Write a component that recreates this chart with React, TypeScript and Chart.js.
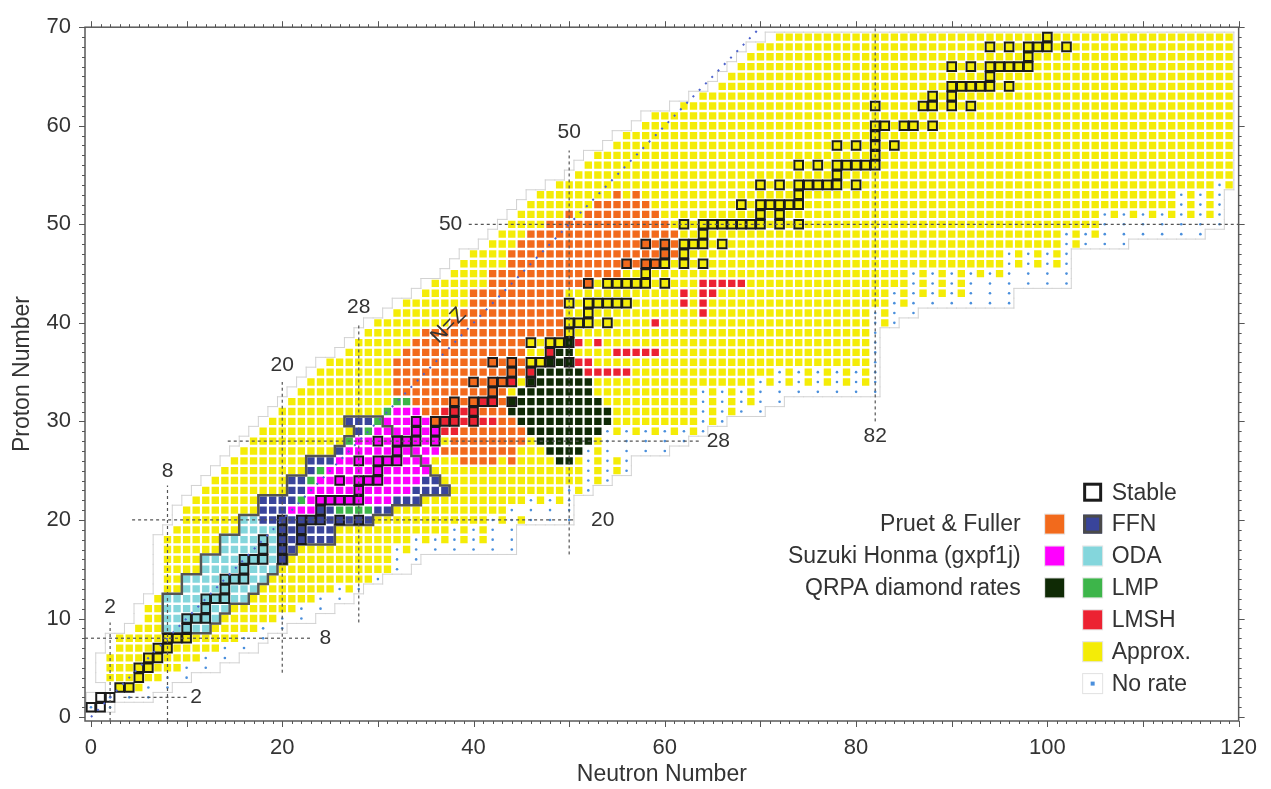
import React, { useEffect, useRef } from 'react';
import { Chart, registerables } from 'chart.js';
Chart.register(...registerables);

const FONT = '"Liberation Sans", Arial, Helvetica, sans-serif';

// ---- nuclide rows, index = Z - 1 (Z = 1 .. 69) ----
const Z_START = 1;
const ROW_FIRST = [0,1,3,2,2,2,3,3,5,6,6,7,8,8,8,8,8,8,9,10,10,11,12,13,14,15,16,17,18,19,20,21,22,23,24,25,27,28,29,30,32,33,35,36,38,39,40,42,43,44,45,46,47,49,51,52,53,55,56,58,59,62,64,66,67,68,69,70,72];
const ROW_APPROX_END = [-1,0,4,7,9,11,13,14,16,19,21,23,25,28,30,31,31,33,37,41,42,45,48,51,51,51,51,53,53,63,63,63,63,69,70,81,81,81,81,81,81,83,83,85,85,95,95,101,101,105,105,113,113,117,119,119,119,119,119,119,119,119,119,119,119,119,119,119,119];
const ROW_MIX_END = [-1,0,5,7,9,11,13,15,17,19,21,23,27,29,31,31,33,41,41,45,43,49,51,53,55,55,53,53,63,65,67,69,69,81,81,81,81,81,81,83,83,85,91,91,95,101,101,103,105,105,117,117,117,119,119,119,119,119,119,119,119,119,119,119,119,119,119,119,119];
const ROW_LAST = [2,6,8,10,13,15,17,18,20,23,25,27,28,30,33,34,44,44,44,50,50,50,52,54,56,56,60,62,64,66,70,72,82,82,82,82,82,82,82,84,86,96,96,102,102,102,102,108,116,118,118,118,118,119,119,119,119,119,119,119,119,119,119,119,119,119,119,119,119];

// ---- rate sources: [Z, N from, N to] ----
const PRUET_ROWS = [[26,39,42],[26,44,44],[27,37,44],[28,38,45],[29,36,45],[30,36,44],[31,35,43],[32,34,43],[33,32,43],[34,32,43],[35,32,45],[36,32,45],[37,33,45],[38,34,45],[39,35,49],[40,38,49],[41,39,49],[42,40,49],[43,40,49],[44,42,52],[45,42,55],[46,44,59],[47,44,61],[48,45,61],[49,46,61],[50,48,60],[51,50,50],[51,52,59],[52,53,58],[53,55,55],[53,57,57]];
const SUZUKI_ROWS = [[21,21,23],[22,23,31],[23,23,33],[24,24,34],[25,25,35],[26,26,35],[27,27,36],[28,28,36],[29,30,36],[30,31,35],[31,32,34]];
const QRPA_ROWS = [[26,49,50],[27,48,51],[28,47,52],[29,46,53],[30,45,54],[31,44,54],[32,44,53],[33,45,52],[34,46,52],[35,47,51],[36,48,50],[37,48,50],[38,50,50]];
const ODA_ROWS = [[9,8,12],[10,8,13],[11,8,14],[12,8,16],[13,10,17],[14,10,18],[15,12,19],[16,12,19],[17,14,19],[18,14,19],[19,16,19],[20,16,17]];
const FFN_ROWS = [[9,12,12],[10,11,13],[11,10,14],[12,9,16],[13,10,17],[14,10,18],[15,12,19],[16,12,20],[17,14,21],[18,14,25],[19,16,25],[20,16,29],[21,18,31],[22,18,34],[23,21,37],[24,21,36],[25,23,35],[26,23,34],[27,26,33],[28,27,32],[29,28,31],[30,27,30]];
const LMSH_ROWS = [[29,37,38],[30,37,42],[31,37,40],[32,41,42],[34,44,44],[35,46,46],[35,52,56],[36,51,52],[37,48,48],[37,55,59],[38,51,51],[38,53,53],[40,59,59],[41,64,64],[42,62,62],[42,64,64],[43,62,62],[43,64,65],[44,64,68]];
// [N, Z]
const LMP_CELLS = [[22,22],[23,24],[24,25],[26,21],[27,21],[28,21],[29,21],[27,28],[29,29],[30,30],[31,31],[32,32],[33,32]];

// ---- stable nuclides: [Z, N list] ----
const STABLE: [number, number[]][] = [
  [1,[0,1]],[2,[1,2]],[3,[3,4]],[4,[5]],[5,[5,6]],[6,[6,7]],[7,[7,8]],[8,[8,9,10]],[9,[10]],[10,[10,11,12]],
  [11,[12]],[12,[12,13,14]],[13,[14]],[14,[14,15,16]],[15,[16]],[16,[16,17,18,20]],[17,[18,20]],[18,[18,20,22]],
  [19,[20,22]],[20,[20,22,23,24,26,28]],[21,[24]],[22,[24,25,26,27,28]],[23,[28]],[24,[26,28,29,30]],[25,[30]],
  [26,[28,30,31,32]],[27,[32]],[28,[30,32,33,34,36]],[29,[34,36]],[30,[34,36,37,38,40]],[31,[38,40]],
  [32,[38,40,41,42,44]],[33,[42]],[34,[40,42,43,44,46]],[35,[44,46]],[36,[42,44,46,47,48,50]],[37,[48]],
  [38,[46,48,49,50]],[39,[50]],[40,[50,51,52,54]],[41,[52]],[42,[50,52,53,54,55,56]],[44,[52,54,55,56,57,58,60]],
  [45,[58]],[46,[56,58,59,60,62,64]],[47,[60,62]],[48,[58,60,62,63,64,66]],[49,[64]],[50,[62,64,65,66,67,68,69,70,72,74]],
  [51,[70,72]],[52,[68,70,71,72,73,74]],[53,[74]],[54,[70,72,74,75,76,77,78,80]],[55,[78]],[56,[74,76,78,79,80,81,82]],
  [57,[82]],[58,[78,80,82,84]],[59,[82]],[60,[82,83,85,86,88]],[62,[82,87,88,90,92]],[63,[88,90]],
  [64,[90,91,92,93,94,96]],[65,[94]],[66,[90,92,94,95,96,97,98]],[67,[98]],[68,[94,96,98,99,100,102]],[69,[100]]
];

// ---- magic number guide lines ----
const MAGIC_N = [2, 8, 20, 28, 50, 82];
const MAGIC_N_FROM = [-0.4, -0.4, 4.5, 9.6, 16.5, 30];
const MAGIC_N_TO = [9.6, 23.5, 34, 40, 57.5, 70];
const MAGIC_N_LABEL_Z = [11.1, 24.9, 35.7, 41.6, 59.3, 28.5];
const MAGIC_Z = [2, 8, 20, 28, 50];
const MAGIC_Z_FROM = [3.4, -0.625, 4.3, 14.3, 39.5];
const MAGIC_Z_TO = [10.1, 23.2, 50.5, 63.6, 120];
const MAGIC_Z_LABEL_N = [11, 24.5, 53.5, 65.6, 37.6];
const NZ_LINE = [0, 70];
const NZ_LABEL = [37.4, 39.7];

const X_TICKS = [0, 20, 40, 60, 80, 100, 120];
const Y_TICKS = [0, 10, 20, 30, 40, 50, 60, 70];

const LEGEND_RIGHT = ['Stable', 'FFN', 'ODA', 'LMP', 'LMSH', 'Approx.', 'No rate'];
const LEGEND_RIGHT_KEYS = ['stable', 'ffn', 'oda', 'lmp', 'lmsh', 'approx', 'norate'];
const LEGEND_LEFT = ['Pruet & Fuller', 'Suzuki Honma (gxpf1j)', 'QRPA diamond rates'];
const LEGEND_LEFT_KEYS = ['pruet', 'suzuki', 'qrpa'];

const COLORS: Record<string, string> = {
  approx: '#f4ec07', pruet: '#f26a1c', suzuki: '#ff00ff', qrpa: '#0f2a05', ffn: '#39449b',
  oda: '#84d6dc', lmp: '#3db54a', lmsh: '#ec2232', dot: '#4a8fdc'
};

const key = (n: number, z: number) => n + ',' + z;

function rowSet(rows: number[][]) {
  const s = new Set<string>();
  rows.forEach(([z, a, b]) => { for (let n = a; n <= b; n++) s.add(key(n, z)); });
  return s;
}

function buildData() {
  const pruet = rowSet(PRUET_ROWS), suzuki = rowSet(SUZUKI_ROWS), qrpa = rowSet(QRPA_ROWS);
  const oda = rowSet(ODA_ROWS), ffn = rowSet(FFN_ROWS), lmsh = rowSet(LMSH_ROWS);
  const lmp = new Set(LMP_CELLS.map(([n, z]) => key(n, z)));
  const order: [Set<string>, string][] = [[lmp, 'lmp'], [lmsh, 'lmsh'], [qrpa, 'qrpa'], [suzuki, 'suzuki'], [oda, 'oda'], [ffn, 'ffn'], [pruet, 'pruet']];
  const squares: { x: number; y: number }[] = [];
  const colors: string[] = [];
  const dots: { x: number; y: number }[] = [];
  const region = new Set<string>();
  for (let i = 0; i < ROW_FIRST.length; i++) {
    const z = Z_START + i;
    for (let n = ROW_FIRST[i] - 1; n <= ROW_LAST[i]; n++) region.add(key(n, z));
    for (let n = ROW_FIRST[i]; n <= ROW_LAST[i]; n++) {
      const k = key(n, z);
      const hit = order.find(([s]) => s.has(k));
      if (hit) { squares.push({ x: n, y: z }); colors.push(COLORS[hit[1]]); continue; }
      if (n <= ROW_APPROX_END[i]) { squares.push({ x: n, y: z }); colors.push(COLORS.approx); }
      else if (n <= ROW_MIX_END[i]) {
        if (n % 2 === 0) dots.push({ x: n, y: z });
        else { squares.push({ x: n, y: z }); colors.push(COLORS.approx); }
      } else if (n % 2 === 0) dots.push({ x: n, y: z });
    }
  }
  const stable: { x: number; y: number }[] = [];
  STABLE.forEach(([z, ns]) => ns.forEach((n) => stable.push({ x: n, y: z })));
  const ffnOutline = new Set<string>([...ffn, ...oda]);
  return { squares, colors, dots, stable, region, ffnOutline };
}

function drawOutline(chart: any, set: Set<string>, color: string, width: number) {
  const xs = chart.scales.x, ys = chart.scales.y, ctx = chart.ctx;
  ctx.save();
  const a = chart.chartArea;
  ctx.beginPath(); ctx.rect(a.left, a.top, a.right - a.left, a.bottom - a.top); ctx.clip();
  ctx.strokeStyle = color; ctx.lineWidth = width; ctx.lineCap = 'square';
  ctx.beginPath();
  set.forEach((k) => {
    const [n, z] = k.split(',').map(Number);
    const l = xs.getPixelForValue(n - 0.5), r = xs.getPixelForValue(n + 0.5);
    const t = ys.getPixelForValue(z + 0.5), b = ys.getPixelForValue(z - 0.5);
    if (!set.has(key(n - 1, z))) { ctx.moveTo(l, t); ctx.lineTo(l, b); }
    if (!set.has(key(n + 1, z))) { ctx.moveTo(r, t); ctx.lineTo(r, b); }
    if (!set.has(key(n, z + 1))) { ctx.moveTo(l, t); ctx.lineTo(r, t); }
    if (!set.has(key(n, z - 1))) { ctx.moveTo(l, b); ctx.lineTo(r, b); }
  });
  ctx.stroke();
  ctx.restore();
}

function legendSwatch(ctx: CanvasRenderingContext2D, k: string, cx: number, cy: number) {
  const s = 19, x = cx - s / 2, y = cy - s / 2;
  if (k === 'stable') {
    ctx.fillStyle = '#fff'; ctx.fillRect(x, y, s, s);
    ctx.strokeStyle = '#1b1b1b'; ctx.lineWidth = 3; ctx.strokeRect(x + 1.5, y + 1.5, s - 3, s - 3);
  } else if (k === 'ffn') {
    ctx.fillStyle = COLORS.ffn; ctx.fillRect(x, y, s, s);
    ctx.strokeStyle = '#4a4a4a'; ctx.lineWidth = 3; ctx.strokeRect(x + 1.5, y + 1.5, s - 3, s - 3);
  } else if (k === 'norate') {
    ctx.fillStyle = '#fff'; ctx.fillRect(x, y, s, s);
    ctx.strokeStyle = '#e2e2e2'; ctx.lineWidth = 1; ctx.strokeRect(x - 0.5, y - 0.5, s + 1, s + 1);
    ctx.fillStyle = COLORS.dot; ctx.fillRect(cx - 2, cy - 2, 4, 4);
  } else {
    ctx.strokeStyle = '#e2e2e2'; ctx.lineWidth = 1; ctx.strokeRect(x - 0.5, y - 0.5, s + 1, s + 1);
    ctx.fillStyle = COLORS[k]; ctx.fillRect(x, y, s, s);
  }
}

function makeDecorPlugin(region: Set<string>, ffnOutline: Set<string>) {
  return {
    id: 'nuclideDecor',
    beforeDatasetsDraw(chart: any) {
      drawOutline(chart, region, '#d2d2d2', 1);
    },
    afterDatasetDraw(chart: any, args: any) {
      if (args.index === 1) drawOutline(chart, ffnOutline, '#555555', 2.5);
    },
    afterDatasetsDraw(chart: any) {
      const ctx = chart.ctx, xs = chart.scales.x, ys = chart.scales.y;
      ctx.save();
      ctx.fillStyle = '#333';
      ctx.font = '21px ' + FONT;
      ctx.textAlign = 'center'; ctx.textBaseline = 'middle';
      MAGIC_N.forEach((n, i) => ctx.fillText(String(n), xs.getPixelForValue(n), ys.getPixelForValue(MAGIC_N_LABEL_Z[i])));
      MAGIC_Z.forEach((z, i) => ctx.fillText(String(z), xs.getPixelForValue(MAGIC_Z_LABEL_N[i]), ys.getPixelForValue(z)));
      const px = xs.getPixelForValue(NZ_LABEL[0]), py = ys.getPixelForValue(NZ_LABEL[1]);
      const ang = Math.atan2(ys.getPixelForValue(70) - ys.getPixelForValue(0), xs.getPixelForValue(70) - xs.getPixelForValue(0));
      ctx.translate(px, py); ctx.rotate(ang); ctx.fillText('N=Z', 0, 0);
      ctx.restore();
    },
    afterDraw(chart: any) {
      const ctx = chart.ctx, a = chart.chartArea, xs = chart.scales.x, ys = chart.scales.y;
      ctx.save();
      ctx.strokeStyle = '#5a5a5a'; ctx.lineWidth = 1.5;
      ctx.strokeRect(a.left, a.top, a.right - a.left, a.bottom - a.top);
      ctx.lineWidth = 1; ctx.strokeStyle = '#555';
      ctx.beginPath();
      for (let n = 0; n <= 120; n++) {
        const x = Math.round(xs.getPixelForValue(n)) + 0.5;
        const len = n % 10 === 0 ? 6 : 3;
        ctx.moveTo(x, a.bottom); ctx.lineTo(x, a.bottom + len);
        ctx.moveTo(x, a.top); ctx.lineTo(x, a.top - len);
      }
      for (let z = 0; z <= 70; z++) {
        const y = Math.round(ys.getPixelForValue(z)) + 0.5;
        const len = z % 10 === 0 ? 6 : 3;
        ctx.moveTo(a.left, y); ctx.lineTo(a.left - len, y);
        ctx.moveTo(a.right, y); ctx.lineTo(a.right + len, y);
      }
      ctx.stroke();
      const rx = a.right - 146, lx = a.right - 184, y0 = a.top + 465, step = 31.9;
      ctx.font = '23px ' + FONT; ctx.textBaseline = 'middle';
      LEGEND_RIGHT.forEach((t, i) => {
        const cy = y0 + i * step;
        legendSwatch(ctx, LEGEND_RIGHT_KEYS[i], rx, cy);
        ctx.fillStyle = '#333'; ctx.textAlign = 'left';
        ctx.fillText(t, rx + 19, cy + 1);
      });
      LEGEND_LEFT.forEach((t, i) => {
        const cy = y0 + (i + 1) * step;
        legendSwatch(ctx, LEGEND_LEFT_KEYS[i], lx, cy);
        ctx.fillStyle = '#333'; ctx.textAlign = 'right';
        ctx.fillText(t, lx - 34, cy + 1);
      });
      ctx.restore();
    }
  };
}

export default function App() {
  const ref = useRef<HTMLCanvasElement>(null);
  useEffect(() => {
    const d = buildData();
    const lineSets: any[] = [];
    MAGIC_N.forEach((n, i) => lineSets.push({
      data: [{ x: n, y: MAGIC_N_FROM[i] }, { x: n, y: MAGIC_N_TO[i] }], showLine: true, pointRadius: 0,
      borderColor: '#555', borderWidth: 1.2, borderDash: [3, 3], order: 1
    }));
    MAGIC_Z.forEach((z, i) => lineSets.push({
      data: [{ x: MAGIC_Z_FROM[i], y: z }, { x: MAGIC_Z_TO[i], y: z }], showLine: true, pointRadius: 0,
      borderColor: '#555', borderWidth: 1.2, borderDash: [3, 3], order: 1
    }));
    lineSets.push({
      data: [{ x: NZ_LINE[0], y: NZ_LINE[0] }, { x: NZ_LINE[1], y: NZ_LINE[1] }], showLine: true, pointRadius: 0,
      borderColor: '#4d62cc', borderWidth: 2, borderDash: [2, 7], order: 1
    });
    const chart = new Chart(ref.current as HTMLCanvasElement, {
      type: 'scatter',
      data: {
        datasets: [
          { data: d.squares, pointStyle: 'rect', pointRadius: 5.2, backgroundColor: d.colors, borderWidth: 0, order: 6 },
          { data: d.dots, pointStyle: 'circle', pointRadius: 1.3, backgroundColor: COLORS.dot, borderWidth: 0, order: 5 },
          { data: d.stable, pointStyle: 'rect', pointRadius: 6.1, backgroundColor: 'rgba(0,0,0,0)', borderColor: '#1b1b1b', borderWidth: 2, order: 3 },
          ...lineSets
        ]
      },
      options: {
        responsive: false,
        devicePixelRatio: 1,
        animation: false,
        events: [],
        layout: { padding: { top: 22, right: 31, bottom: 0, left: 0 } },
        plugins: { legend: { display: false }, tooltip: { enabled: false } },
        scales: {
          x: {
            type: 'linear', min: -0.625, max: 120,
            afterBuildTicks: (s: any) => { s.ticks = X_TICKS.map((v) => ({ value: v })); },
            afterFit: (s: any) => { s.height = 68; },
            grid: { display: false, drawTicks: false }, border: { display: false },
            ticks: { font: { size: 22, family: FONT }, color: '#333', padding: 14, maxRotation: 0, autoSkip: false },
            title: { display: true, text: 'Neutron Number', font: { size: 23, family: FONT }, color: '#333', padding: { top: 0, bottom: 1 } }
          },
          y: {
            type: 'linear', min: -0.4, max: 70,
            afterBuildTicks: (s: any) => { s.ticks = Y_TICKS.map((v) => ({ value: v })); },
            afterFit: (s: any) => { s.width = 85; },
            grid: { display: false, drawTicks: false }, border: { display: false },
            ticks: { font: { size: 22, family: FONT }, color: '#333', padding: 14, autoSkip: false },
            title: { display: true, text: 'Proton Number', font: { size: 23, family: FONT }, color: '#333', padding: { top: 9, bottom: 0 } }
          }
        }
      } as any,
      plugins: [makeDecorPlugin(d.region, d.ffnOutline) as any]
    });
    return () => chart.destroy();
  }, []);
  return (
    <div style={{ position: 'fixed', left: 0, top: 0, width: 1271, height: 789, background: '#fff' }}>
      <canvas ref={ref} width={1271} height={789} style={{ display: 'block', width: 1271, height: 789 }} />
    </div>
  );
}
